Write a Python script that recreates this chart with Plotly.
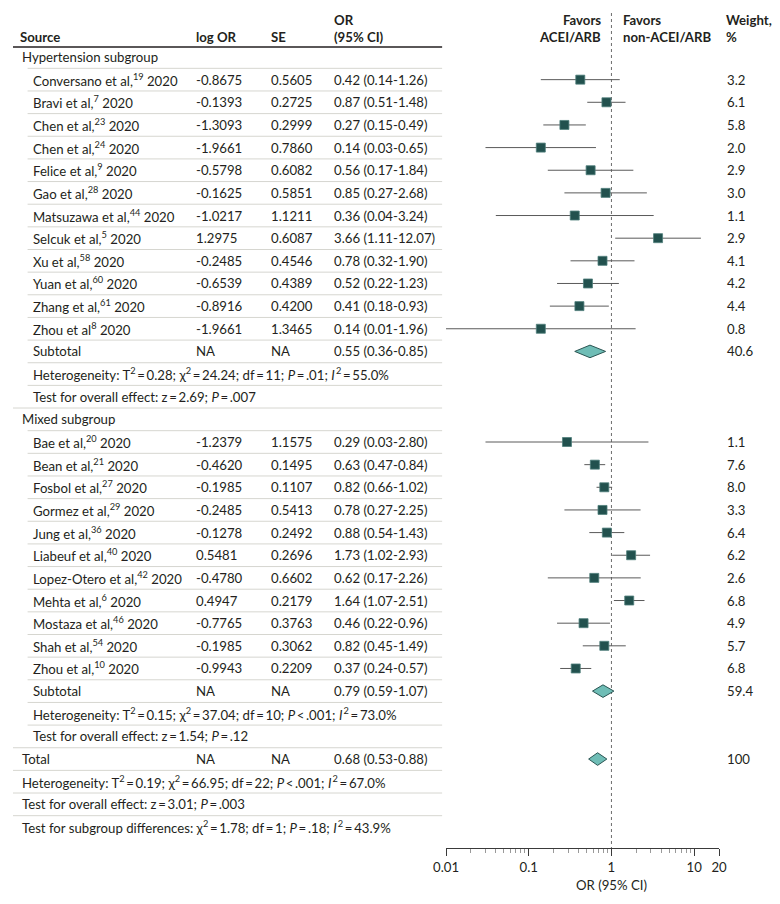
import plotly.graph_objects as go
import math

# ---------------- data ----------------
h_authors = ["Conversano et al,", "Bravi et al,", "Chen et al,", "Chen et al,", "Felice et al,", "Gao et al,",
             "Matsuzawa et al,", "Selcuk et al,", "Xu et al,", "Yuan et al,", "Zhang et al,", "Zhou et al"]
h_refs = ["19", "7", "23", "24", "9", "28", "44", "5", "58", "60", "61", "8"]
h_logor = ["-0.8675", "-0.1393", "-1.3093", "-1.9661", "-0.5798", "-0.1625", "-1.0217", "1.2975", "-0.2485",
           "-0.6539", "-0.8916", "-1.9661"]
h_se = ["0.5605", "0.2725", "0.2999", "0.7860", "0.6082", "0.5851", "1.1211", "0.6087", "0.4546", "0.4389",
        "0.4200", "1.3465"]
h_or = [0.42, 0.87, 0.27, 0.14, 0.56, 0.85, 0.36, 3.66, 0.78, 0.52, 0.41, 0.14]
h_lo = [0.14, 0.51, 0.15, 0.03, 0.17, 0.27, 0.04, 1.11, 0.32, 0.22, 0.18, 0.01]
h_hi = [1.26, 1.48, 0.49, 0.65, 1.84, 2.68, 3.24, 12.07, 1.90, 1.23, 0.93, 1.96]
h_w = ["3.2", "6.1", "5.8", "2.0", "2.9", "3.0", "1.1", "2.9", "4.1", "4.2", "4.4", "0.8"]
h_sub = (0.55, 0.36, 0.85, "40.6")
h_het = "Heterogeneity: T<sup>2</sup>\u2009=\u20090.28; χ<sup>2</sup>\u2009=\u200924.24; df\u2009=\u200911; <i>P</i>\u2009=\u2009.01; <i>I</i><sup>\u20092</sup>\u2009=\u200955.0%"
h_test = "Test for overall effect: z\u2009=\u20092.69; <i>P</i>\u2009=\u2009.007"

m_authors = ["Bae et al,", "Bean et al,", "Fosbol et al,", "Gormez et al,", "Jung et al,", "Liabeuf et al,",
             "Lopez-Otero et al,", "Mehta et al,", "Mostaza et al,", "Shah et al,", "Zhou et al,"]
m_refs = ["20", "21", "27", "29", "36", "40", "42", "6", "46", "54", "10"]
m_logor = ["-1.2379", "-0.4620", "-0.1985", "-0.2485", "-0.1278", "0.5481", "-0.4780", "0.4947", "-0.7765",
           "-0.1985", "-0.9943"]
m_se = ["1.1575", "0.1495", "0.1107", "0.5413", "0.2492", "0.2696", "0.6602", "0.2179", "0.3763", "0.3062",
        "0.2209"]
m_or = [0.29, 0.63, 0.82, 0.78, 0.88, 1.73, 0.62, 1.64, 0.46, 0.82, 0.37]
m_lo = [0.03, 0.47, 0.66, 0.27, 0.54, 1.02, 0.17, 1.07, 0.22, 0.45, 0.24]
m_hi = [2.80, 0.84, 1.02, 2.25, 1.43, 2.93, 2.26, 2.51, 0.96, 1.49, 0.57]
m_w = ["1.1", "7.6", "8.0", "3.3", "6.4", "6.2", "2.6", "6.8", "4.9", "5.7", "6.8"]
m_sub = (0.79, 0.59, 1.07, "59.4")
m_het = "Heterogeneity: T<sup>2</sup>\u2009=\u20090.15; χ<sup>2</sup>\u2009=\u200937.04; df\u2009=\u200910; <i>P</i>\u2009<\u2009.001; <i>I</i><sup>\u20092</sup>\u2009=\u200973.0%"
m_test = "Test for overall effect: z\u2009=\u20091.54; <i>P</i>\u2009=\u2009.12"

total = (0.68, 0.53, 0.88, "100")
t_het = "Heterogeneity: T<sup>2</sup>\u2009=\u20090.19; χ<sup>2</sup>\u2009=\u200966.95; df\u2009=\u200922; <i>P</i>\u2009<\u2009.001; <i>I</i><sup>\u20092</sup>\u2009=\u200967.0%"
t_test = "Test for overall effect: z\u2009=\u20093.01; <i>P</i>\u2009=\u2009.003"
t_sub = "Test for subgroup differences: χ<sup>2</sup>\u2009=\u20091.78; df\u2009=\u20091; <i>P</i>\u2009=\u2009.18; <i>I</i><sup>\u20092</sup>\u2009=\u200943.9%"

x_ticks = [0.01, 0.1, 1, 10, 20]
x_tick_labels = ["0.01", "0.1", "1", "10", "20"]

# ---------------- layout helpers ----------------
W, H = 780, 904
FONT = "Lato"
TXT = "#231f20"
FS = 13.2
PITCH = (827 - 57) / 34
Y_TOP = -57 / PITCH
Y_BOT = (H - 57) / PITCH

def px(x):
    return x / W

def fmt_ci(o, l, h):
    return f"{o:.2f} ({l:.2f}-{h:.2f})"

rows = []
rows.append(dict(kind="group", indent=False, src="Hypertension subgroup"))
for a, r, lg, se, o, l, hh, w in zip(h_authors, h_refs, h_logor, h_se, h_or, h_lo, h_hi, h_w):
    rows.append(dict(kind="study", indent=True, src=f"{a}<sup>{r}</sup> 2020", lg=lg, se=se,
                     ci=fmt_ci(o, l, hh), w=w, o=o, l=l, h=hh))
rows.append(dict(kind="sub", indent=True, src="Subtotal", lg="NA", se="NA",
                 ci=fmt_ci(*h_sub[:3]), w=h_sub[3], o=h_sub[0], l=h_sub[1], h=h_sub[2]))
rows.append(dict(kind="text", indent=True, src=h_het))
rows.append(dict(kind="text", indent=True, src=h_test))
rows.append(dict(kind="group", indent=False, src="Mixed subgroup"))
for a, r, lg, se, o, l, hh, w in zip(m_authors, m_refs, m_logor, m_se, m_or, m_lo, m_hi, m_w):
    rows.append(dict(kind="study", indent=True, src=f"{a}<sup>{r}</sup> 2020", lg=lg, se=se,
                     ci=fmt_ci(o, l, hh), w=w, o=o, l=l, h=hh))
rows.append(dict(kind="sub", indent=True, src="Subtotal", lg="NA", se="NA",
                 ci=fmt_ci(*m_sub[:3]), w=m_sub[3], o=m_sub[0], l=m_sub[1], h=m_sub[2]))
rows.append(dict(kind="text", indent=True, src=m_het))
rows.append(dict(kind="text", indent=True, src=m_test))
rows.append(dict(kind="sub", indent=False, src="Total", lg="NA", se="NA",
                 ci=fmt_ci(*total[:3]), w=total[3], o=total[0], l=total[1], h=total[2]))
rows.append(dict(kind="text", indent=False, src=t_het))
rows.append(dict(kind="text", indent=False, src=t_test))
rows.append(dict(kind="text", indent=False, src=t_sub))

annotations = []
shapes = []

def add_text(x, y, text, anchor="left", bold=False, size=FS):
    if bold:
        text = f"<b>{text}</b>"
    annotations.append(dict(x=px(x), y=y, xref="paper", yref="y", text=text, showarrow=False,
                            xanchor=anchor, yanchor="middle", font=dict(family=FONT, size=size, color=TXT)))

# header
yh1 = (20 - 57) / PITCH
yh2 = (37 - 57) / PITCH
add_text(5, yh2, "Source", bold=True)
add_text(186, yh2, "log OR", bold=True)
add_text(263, yh2, "SE", bold=True)
add_text(328, yh1, "OR", bold=True)
add_text(328, yh2, "(95% CI)", bold=True)
add_text(606, yh1, "Favors", anchor="right", bold=True)
add_text(606, yh2, "ACEI/ARB", anchor="right", bold=True)
add_text(625, yh1, "Favors", bold=True)
add_text(625, yh2, "non-ACEI/ARB", bold=True)
add_text(731, yh1, "Weight,", bold=True)
add_text(731, yh2, "%", bold=True)
shapes.append(dict(type="line", xref="paper", yref="y", x0=0, x1=px(441), y0=-0.44, y1=-0.44,
                   line=dict(color="#231f20", width=1.5)))

ci_x, ci_y, sq_x, sq_y = [], [], [], []
diamonds = []
for i, r in enumerate(rows):
    x0 = 19 if r["indent"] else 7
    add_text(x0, i, r["src"])
    if "lg" in r:
        add_text(186, i, r["lg"])
        add_text(263, i, r["se"])
        add_text(328, i, r["ci"])
        add_text(732, i, r["w"])
    if r["kind"] == "study":
        ci_x += [r["l"], r["h"], None]
        ci_y += [i, i, None]
        sq_x.append(r["o"])
        sq_y.append(i)
    elif r["kind"] == "sub":
        diamonds.append((i, r["o"], r["l"], r["h"]))
    if i < len(rows) - 1:
        nxt = rows[i + 1]
        sx = 15 if nxt["indent"] else 0
        shapes.append(dict(type="line", xref="paper", yref="y", x0=px(sx), x1=px(441), y0=i + 0.5, y1=i + 0.5,
                           line=dict(color="#d6d6d0", width=1)))

fig = go.Figure()

fig.add_trace(go.Scatter(x=[1, 1], y=[(13 - 57) / PITCH, (848 - 57) / PITCH], mode="lines",
                         line=dict(color="#6d6d6d", width=1, dash="dot"), hoverinfo="skip", showlegend=False))
fig.add_trace(go.Scatter(x=ci_x, y=ci_y, mode="lines", line=dict(color="#5a5a5a", width=1),
                         hoverinfo="skip", showlegend=False))
fig.add_trace(go.Scatter(x=sq_x, y=sq_y, mode="markers",
                         marker=dict(symbol="square", size=9, color="#22514e",
                                     line=dict(color="#4f7f7b", width=0.8)),
                         showlegend=False))
dh = 6.3 / PITCH
for (i, o, l, h) in diamonds:
    fig.add_trace(go.Scatter(x=[l, o, h, o, l], y=[i, i - dh, i, i + dh, i], mode="lines", fill="toself",
                             fillcolor="#6fbdb6", line=dict(color="#2b5553", width=1),
                             hoverinfo="skip", showlegend=False))

minor_vals = []
for dec in [0.01, 0.1, 1]:
    for k in range(2, 10):
        minor_vals.append(round(dec * k, 4))
minor_vals = [v for v in minor_vals if v not in x_ticks]

annotations.append(dict(x=px(615), y=(885 - 57) / PITCH, xref="paper", yref="y", text="OR (95% CI)",
                        showarrow=False, xanchor="center", yanchor="middle",
                        font=dict(family=FONT, size=FS, color=TXT)))

fig.update_layout(
    width=W, height=H, autosize=False,
    margin=dict(l=0, r=0, t=0, b=0),
    paper_bgcolor="white", plot_bgcolor="white",
    annotations=annotations, shapes=shapes,
    xaxis=dict(type="log", range=[math.log10(0.01), math.log10(20)], domain=[px(445), px(725.6)],
               anchor="free", position=1 - 848 / H, showgrid=False, zeroline=False,
               showline=True, linecolor="#3a3a3a", linewidth=1,
               ticks="outside", ticklen=7, tickcolor="#3a3a3a", tickwidth=1,
               tickvals=x_ticks, ticktext=x_tick_labels,
               tickfont=dict(family=FONT, size=FS, color=TXT),
               minor=dict(tickvals=minor_vals, ticks="outside", ticklen=4, tickcolor="#9a9a9a", tickwidth=1,
                          showgrid=False)),
    yaxis=dict(range=[Y_BOT, Y_TOP], domain=[0, 1], visible=False, showgrid=False, zeroline=False),
)

fig.write_html("out.html", config={"displayModeBar": False},
               post_script="document.body.style.margin='0';document.body.style.overflow='hidden';")
